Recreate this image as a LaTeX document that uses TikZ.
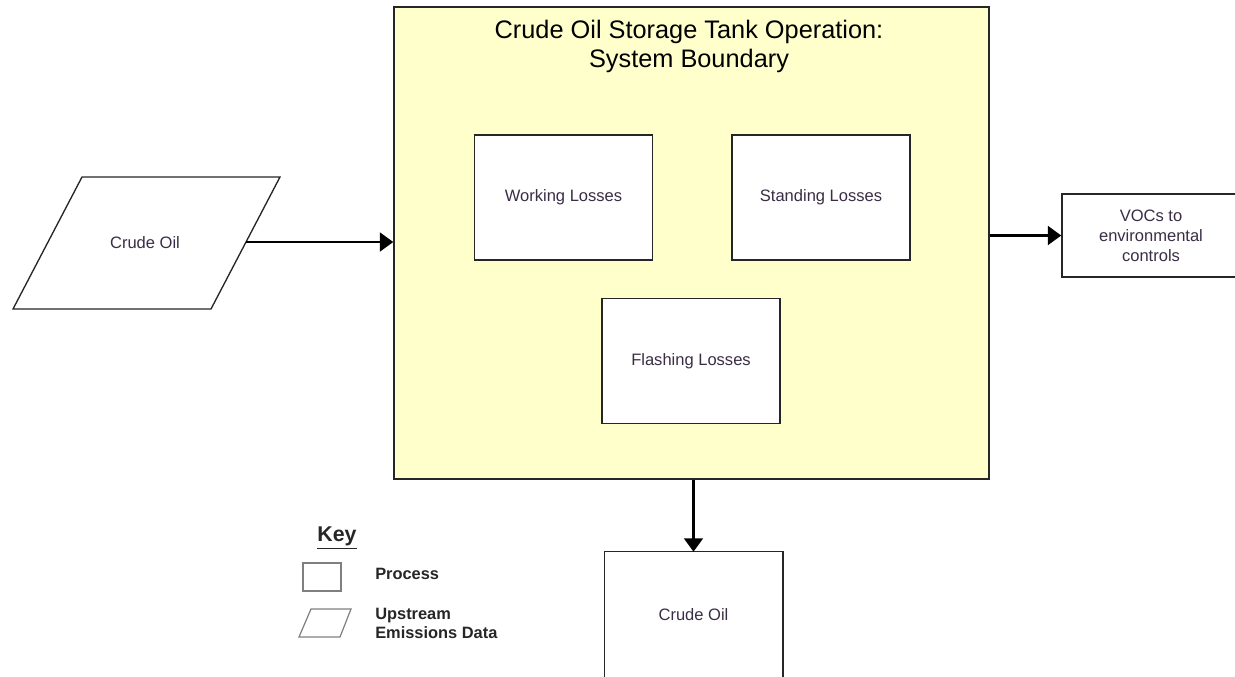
\documentclass[tikz,border=0pt]{standalone}
\usepackage{fontspec}
\setmainfont{Liberation Sans}
\usetikzlibrary{arrows.meta}
\definecolor{boundary}{HTML}{FFFFCC}
\definecolor{txt}{HTML}{3A2D45}
\definecolor{keygray}{HTML}{7F7F7F}
\begin{document}
\begin{tikzpicture}[x=0.75pt,y=-0.75pt,
  procbox/.style={draw=black!85, line width=1.1pt, fill=white, minimum width=133.5pt, minimum height=93.75pt, inner sep=0pt, text=txt, font=\fontsize{12.4}{15}\selectfont, align=center},
  arr/.style={line width=1.9pt, -{Triangle[length=10pt,width=14pt]}},
  keytxt/.style={font=\bfseries\fontsize{12.3}{14.25}\selectfont, text=black!85, align=left, anchor=west, inner sep=0pt}]
\useasboundingbox (0,0) rectangle (1235,676);
% system boundary
\node[draw=black!85, line width=1.1pt, fill=boundary, minimum width=446.25pt, minimum height=354pt, inner sep=0pt] (sys) at (691.5,243) {};
\node[font=\fontsize{19}{21.75}\selectfont, align=center, inner sep=0pt] (title) at (689,46) {Crude Oil Storage Tank Operation:\\System Boundary};
% inner processes
\node[procbox] (work) at (563.5,197.5) {Working Losses};
\node[procbox] (stand) at (821,197.5) {Standing Losses};
\node[procbox] (flash) at (691,361) {Flashing Losses};
% input parallelogram
\draw[draw=black!85, line width=1pt, fill=white] (13,309) -- (82,177) -- (280,177) -- (211,309) -- cycle;
\node[text=txt, font=\fontsize{12.4}{15}\selectfont, inner sep=0pt] (cin) at (145,243) {Crude Oil};
\coordinate (cinedge) at (245.5,242);
\draw[arr] (cinedge) -- (sys.west |- cinedge);
% VOCs
\node[procbox, minimum height=62.25pt, font=\fontsize{12.4}{15}\selectfont] (vocs) at (1151,235.5) {VOCs to\\environmental\\controls};
\draw[arr] (sys.east |- vocs.west) -- (vocs.west);
% output (runs off the bottom edge)
\node[text=txt, font=\fontsize{12.4}{15}\selectfont, minimum width=133.5pt, minimum height=93.75pt, inner sep=0pt] (cout) at (693.5,614.5) {Crude Oil};
\draw[draw=black!85, line width=1.1pt] ([yshift=-20pt]cout.south west) -- (cout.north west) -- (cout.north east) -- ([yshift=-20pt]cout.south east);
\draw[arr] (sys.south -| cout.north) -- (cout.north);
% key
\node[font=\bfseries\fontsize{16}{18}\selectfont, text=black!85, inner sep=0pt] (key) at (337,538) {\underline{Key}};
\node[draw=keygray, line width=0.9pt, minimum width=28.5pt, minimum height=21pt, inner sep=0pt] (keyrect) at (322,577) {};
\draw[draw=keygray, line width=0.9pt] (299,637) -- (311,609) -- (351,609) -- (340,637) -- cycle;
\node[keytxt] (kproc) at (375,574) {Process};
\node[keytxt] (kup) at (375,623.5) {Upstream\\Emissions Data};
\end{tikzpicture}
\end{document}
